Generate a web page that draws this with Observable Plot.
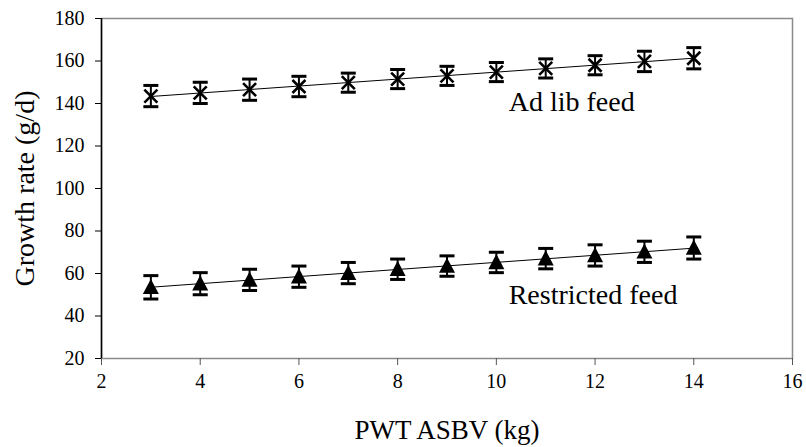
<!DOCTYPE html>
<html><head><meta charset="utf-8">
<script src="https://cdn.jsdelivr.net/npm/d3@7"></script>
<script src="https://cdn.jsdelivr.net/npm/@observablehq/plot@0.6"></script>
<style>body{margin:0;background:#fff} svg text{font-family:'Liberation Serif','Times New Roman',serif;}</style>
</head><body><div id="chart"></div>
<script>
const pwt = [3, 4, 5, 6, 7, 8, 9, 10, 11, 12, 13, 14];
const adLib = [143.5, 145, 146.5, 148, 149.8, 151.5, 153, 154.8, 156.5, 158, 159.8, 161.3];
const adLibErr = [5, 5, 5, 4.8, 4.5, 4.5, 4.5, 4.5, 4.5, 4.5, 4.8, 5];
const restricted = [53.5, 55.2, 57, 58.5, 60.2, 62, 63.5, 65.2, 67, 68.5, 70.2, 72];
const restrictedErr = [5.5, 5.2, 5, 5, 5, 4.8, 4.8, 4.8, 4.8, 5, 5, 5.2];
const seriesNames = ["Ad lib feed", "Restricted feed"];
const labelX = [10.25, 10.25];
const labelY = [136.3, 45.5];
const xTicks = [2, 4, 6, 8, 10, 12, 14, 16];
const yTicks = [20, 40, 60, 80, 100, 120, 140, 160, 180];
const xTitle = "PWT ASBV (kg)";
const yTitle = "Growth rate (g/d)";

const rows = [];
pwt.forEach((x, i) => {
  rows.push({series: seriesNames[0], x, y: adLib[i], e: adLibErr[i]});
  rows.push({series: seriesNames[1], x, y: restricted[i], e: restrictedErr[i]});
});
const adRows = rows.filter(d => d.series === seriesNames[0]);
const reRows = rows.filter(d => d.series === seriesNames[1]);
const labels = seriesNames.map((s, i) => ({text: s, x: labelX[i], y: labelY[i]}));

const rad = s => Math.sqrt(s / Math.PI);
const capSymbol = {draw(ctx, size) { const r = rad(size); ctx.moveTo(-r, 0); ctx.lineTo(r, 0); }};
const crossSymbol = {draw(ctx, size) { const r = rad(size); ctx.moveTo(-r, -r); ctx.lineTo(r, r); ctx.moveTo(-r, r); ctx.lineTo(r, -r); }};
const triSymbol = {draw(ctx, size) { const r = rad(size); ctx.moveTo(0, -r * 1.05); ctx.lineTo(r, r * 0.85); ctx.lineTo(-r, r * 0.85); ctx.closePath(); }};

const font = "'Liberation Serif', 'Times New Roman', serif";

const chart = Plot.plot({
  width: 806,
  height: 447,
  marginLeft: 101,
  marginRight: 14,
  marginTop: 18,
  marginBottom: 89,
  style: {fontFamily: font, background: "#fff", color: "#000"},
  x: {domain: [xTicks[0], xTicks[xTicks.length - 1]]},
  y: {domain: [yTicks[0], yTicks[yTicks.length - 1]]},
  marks: [
    Plot.frame({stroke: "#8a8a8a", strokeWidth: 1.5}),
    Plot.ruleX([xTicks[0]], {stroke: "#000", strokeWidth: 1.5}),
    Plot.axisY({ticks: yTicks, tickSize: 6, tickPadding: 11, fontSize: 20, fontFamily: font, label: null, stroke: "#000"}),
    Plot.axisX({ticks: xTicks, tickSize: 7, tickPadding: 8, fontSize: 20, fontFamily: font, label: null, stroke: "#555"}),
    Plot.text([xTitle], {frameAnchor: "bottom", dy: 72, fontSize: 27, fontFamily: font, textAnchor: "middle", lineAnchor: "middle"}),
    Plot.text([yTitle], {frameAnchor: "left", dx: -76, rotate: -90, fontSize: 28, fontFamily: font, textAnchor: "middle", lineAnchor: "middle"}),
    Plot.linearRegressionY(adRows, {x: "x", y: "y", ci: 0, stroke: "#000", strokeWidth: 1}),
    Plot.linearRegressionY(reRows, {x: "x", y: "y", ci: 0, stroke: "#000", strokeWidth: 1}),
    Plot.ruleX(rows, {x: "x", y1: d => d.y - d.e, y2: d => d.y + d.e, stroke: "#000", strokeWidth: 2}),
    Plot.dot(rows, {x: "x", y: d => d.y - d.e, symbol: capSymbol, r: 7.5, stroke: "#000", strokeWidth: 3}),
    Plot.dot(rows, {x: "x", y: d => d.y + d.e, symbol: capSymbol, r: 7.5, stroke: "#000", strokeWidth: 3}),
    Plot.dot(adRows, {x: "x", y: "y", symbol: crossSymbol, r: 6.5, stroke: "#000", strokeWidth: 2.6}),
    Plot.dot(reRows, {x: "x", y: "y", symbol: triSymbol, r: 8, fill: "#000", stroke: "none"}),
    Plot.text(labels, {x: "x", y: "y", text: "text", textAnchor: "start", lineAnchor: "bottom", fontSize: 28, fontFamily: font, fill: "#000"})
  ]
});
document.getElementById("chart").appendChild(chart);
</script>
</body></html>
